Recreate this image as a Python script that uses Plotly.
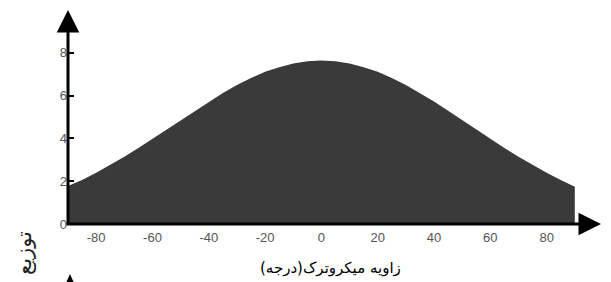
import plotly.graph_objects as go

angles = [-90, -85, -80, -75, -70, -65, -60, -55, -50, -45, -40, -35, -30, -25, -20, -15, -10, -5,
          0, 5, 10, 15, 20, 25, 30, 35, 40, 45, 50, 55, 60, 65, 70, 75, 80, 85, 90]
density = [1.78, 2.06, 2.39, 2.75, 3.14, 3.55, 3.98, 4.41, 4.85, 5.29, 5.72, 6.12, 6.49, 6.82, 7.11, 7.33, 7.50, 7.61,
           7.64, 7.61, 7.50, 7.33, 7.11, 6.82, 6.49, 6.12, 5.72, 5.29, 4.85, 4.41, 3.98, 3.55, 3.14, 2.75, 2.39, 2.06, 1.74]
x_ticks = [-80, -60, -40, -20, 0, 20, 40, 60, 80]
x_tick_labels = ["-80", "-60", "-40", "-20", "0", "20", "40", "60", "80"]
y_ticks = [0, 2, 4, 6, 8]
y_tick_labels = ["0", "2", "4", "6", "8"]
x_title = "زاویه میکروترک(درجه)"
y_title = "توزیع"

W, H, L, R, T, B = 611, 282, 68, 10, 10, 58
PW, PH = W - L - R, H - T - B


def px(xp):
    return (xp - L) / PW


def py(yp):
    return (H - B - yp) / PH


fig = go.Figure()
fig.add_trace(go.Scatter(x=angles, y=density, mode="lines", fill="tozeroy",
                         line=dict(width=0, color="#3a3a3a"), fillcolor="#3a3a3a",
                         hoverinfo="skip", showlegend=False))

fig.update_layout(
    width=W, height=H,
    margin=dict(l=L, r=R, t=T, b=B, autoexpand=False),
    paper_bgcolor="white", plot_bgcolor="white",
    font=dict(family="Liberation Sans, Arial, sans-serif", size=13, color="#555555"),
    showlegend=False,
)
fig.update_xaxes(range=[-90, 99.3], tickvals=x_ticks, ticktext=x_tick_labels, showgrid=False, zeroline=False,
                 showline=False, ticks="", automargin=False, ticklabelstandoff=4,
                 tickfont=dict(size=13, color="#555555"))
fig.update_yaxes(range=[0, 10], tickvals=y_ticks, ticktext=y_tick_labels, showgrid=False, zeroline=False,
                 showline=False, ticks="inside", ticklen=6, tickwidth=2, tickcolor="black", automargin=False,
                 tickfont=dict(size=13, color="#555555"))

# axes with arrowheads
fig.add_annotation(x=99.3, y=0, ax=-91, ay=0, xref="x", yref="y", axref="x", ayref="y",
                   showarrow=True, arrowhead=2, arrowsize=1.5, arrowwidth=3, arrowcolor="black", text="")
fig.add_annotation(x=-90, y=10, ax=-90, ay=-0.1, xref="x", yref="y", axref="x", ayref="y",
                   showarrow=True, arrowhead=2, arrowsize=1.5, arrowwidth=3, arrowcolor="black", text="")

# tip of a further arrow peeking in at the bottom edge
fig.add_shape(type="path", xref="paper", yref="paper",
              path=f"M {px(70)} {py(274)} L {px(66)} {py(283)} L {px(74)} {py(283)} Z",
              fillcolor="black", line=dict(width=0))

# axis titles
fig.add_annotation(text=x_title, xref="paper", yref="paper", x=px(330), y=py(268),
                   showarrow=False, font=dict(family="DejaVu Sans, sans-serif", size=15, color="black"),
                   xanchor="center", yanchor="middle")
fig.add_annotation(text=y_title, xref="paper", yref="paper", x=px(24), y=py(229),
                   showarrow=False, textangle=-90,
                   font=dict(family="DejaVu Sans, sans-serif", size=21, color="#222222"),
                   xanchor="center", yanchor="top")

fig.write_html("out.html", config={"displayModeBar": False},
               post_script="document.body.style.margin='0';document.body.style.overflow='hidden';")
